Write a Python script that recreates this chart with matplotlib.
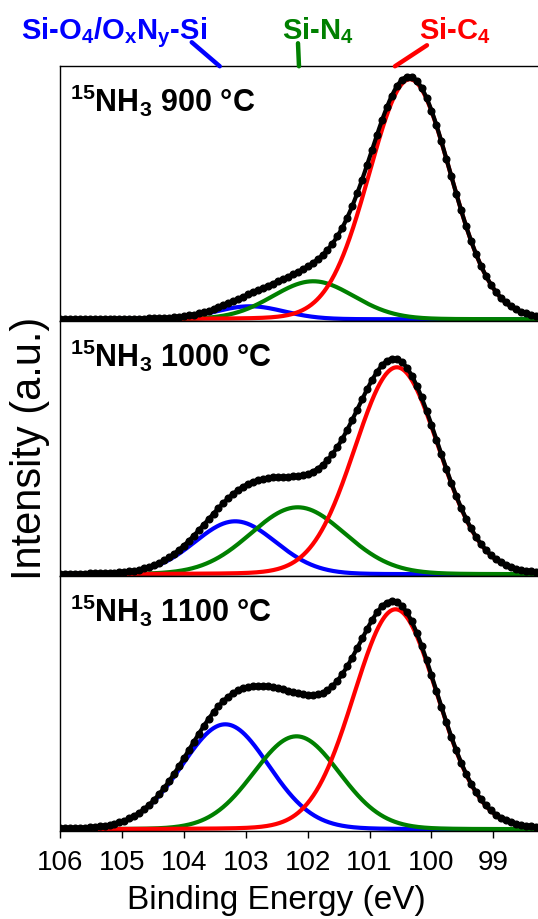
import matplotlib
matplotlib.use("Agg")
import matplotlib.pyplot as plt
import numpy as np

plt.rcParams["font.family"] = ["Liberation Sans", "DejaVu Sans"]
plt.rcParams["mathtext.fontset"] = "custom"
plt.rcParams["mathtext.rm"] = "Liberation Sans"
plt.rcParams["mathtext.bf"] = "Liberation Sans:bold"

# fitted Si 2p components, one entry per anneal temperature (top -> bottom)
panel_titles = [r"$^{\mathbf{15}}$NH$_{\mathbf{3}}$ 900 °C",
                r"$^{\mathbf{15}}$NH$_{\mathbf{3}}$ 1000 °C",
                r"$^{\mathbf{15}}$NH$_{\mathbf{3}}$ 1100 °C"]

sio_center = [102.93, 103.17, 103.33]
sio_height = [13, 53, 105]
sio_fwhm = [1.30, 1.55, 1.66]

sin_center = [101.91, 102.16, 102.18]
sin_height = [38, 67, 93]
sin_fwhm = [1.55, 1.80, 1.64]

sic_center = [100.35, 100.56, 100.58]
sic_height = [240, 207, 220]
sic_fwhm = [1.55, 1.61, 1.60]

gl_mix = 0.05  # lorentzian fraction of the GL line shape

peak_names = [r"Si-O$_\mathbf{4}$/O$_\mathbf{x}$N$_\mathbf{y}$-Si",
              r"Si-N$_\mathbf{4}$", r"Si-C$_\mathbf{4}$"]
peak_marks = [103.42, 102.14, 100.59]
peak_colors = ["#0000ff", "#008000", "#ff0000"]

energy = np.arange(106.0, 98.15, -0.08)
x_ticks = [106, 105, 104, 103, 102, 101, 100, 99]


def gl_peak(x, center, height, fwhm):
    d = (x - center) / fwhm
    gauss = np.exp(-4 * np.log(2) * d ** 2)
    lorentz = 1 / (1 + 4 * d ** 2)
    return height * ((1 - gl_mix) * gauss + gl_mix * lorentz)


fig = plt.figure(figsize=(5.38, 9.2), dpi=100)
left, width, height = 0.1115, 0.8885, 0.2772
bottoms = [0.6497, 0.3725, 0.0953]
xfine = np.linspace(106, 98.2, 800)

axes = []
for i in range(3):
    ax = fig.add_axes([left, bottoms[i], width, height])
    axes.append(ax)

    comps = [
        (sio_center[i], sio_height[i], sio_fwhm[i], peak_colors[0]),
        (sin_center[i], sin_height[i], sin_fwhm[i], peak_colors[1]),
        (sic_center[i], sic_height[i], sic_fwhm[i], peak_colors[2]),
    ]
    total_fine = np.zeros_like(xfine)
    total_pts = np.zeros_like(energy)
    for c, h, w, col in comps:
        yc = gl_peak(xfine, c, h, w)
        total_fine += yc
        total_pts += gl_peak(energy, c, h, w)
        ax.plot(xfine, yc, color=col, lw=3, zorder=2)

    ax.plot(xfine, total_fine, color="black", lw=3, zorder=3)
    ax.plot(energy, total_pts, "o", color="black", ms=4.8, zorder=4)

    ax.text(0.021, 0.825, panel_titles[i], transform=ax.transAxes,
            fontsize=22, fontweight="bold", va="baseline", ha="left")

    ax.set_xlim(106, 98.28)
    ax.set_ylim(-2, 253)
    ax.set_yticks([])
    ax.spines["right"].set_visible(False)
    for s in ("left", "top", "bottom"):
        ax.spines[s].set_linewidth(1.0)
    if i < 2:
        ax.set_xticks([])
    else:
        ax.set_xticks(x_ticks)
        ax.set_xticklabels([str(t) for t in x_ticks])
        ax.tick_params(axis="x", direction="out", length=5, width=1.0,
                       labelsize=20, pad=8)
        ax.set_xlabel("Binding Energy (eV)", fontsize=24)
        ax.xaxis.set_label_coords(0.453, -0.205)

# peak labels above the top panel
top_ax = axes[0]
line_offsets = [(-28, 24), (-1, 23), (32, 21)]
text_x = [113.7, 318, 455]
for name, mark, col, (dx, dy), tx in zip(peak_names, peak_marks, peak_colors,
                                         line_offsets, text_x):
    top_ax.annotate("", xy=(mark, 1.0), xycoords=("data", "axes fraction"),
                    xytext=(dx, dy), textcoords="offset pixels",
                    arrowprops=dict(arrowstyle="-", lw=3.2, color=col,
                                    shrinkA=0, shrinkB=0, capstyle="round"),
                    annotation_clip=False)
    fig.text(tx / 538, 1 - 39.3 / 920, name, color=col, fontsize=21,
             fontweight="bold", ha="center", va="baseline")

fig.text(30 / 538, 1 - 448 / 920, "Intensity (a.u.)", rotation=90,
         fontsize=30, ha="center", va="center")

fig.savefig("out.png", dpi=100)
